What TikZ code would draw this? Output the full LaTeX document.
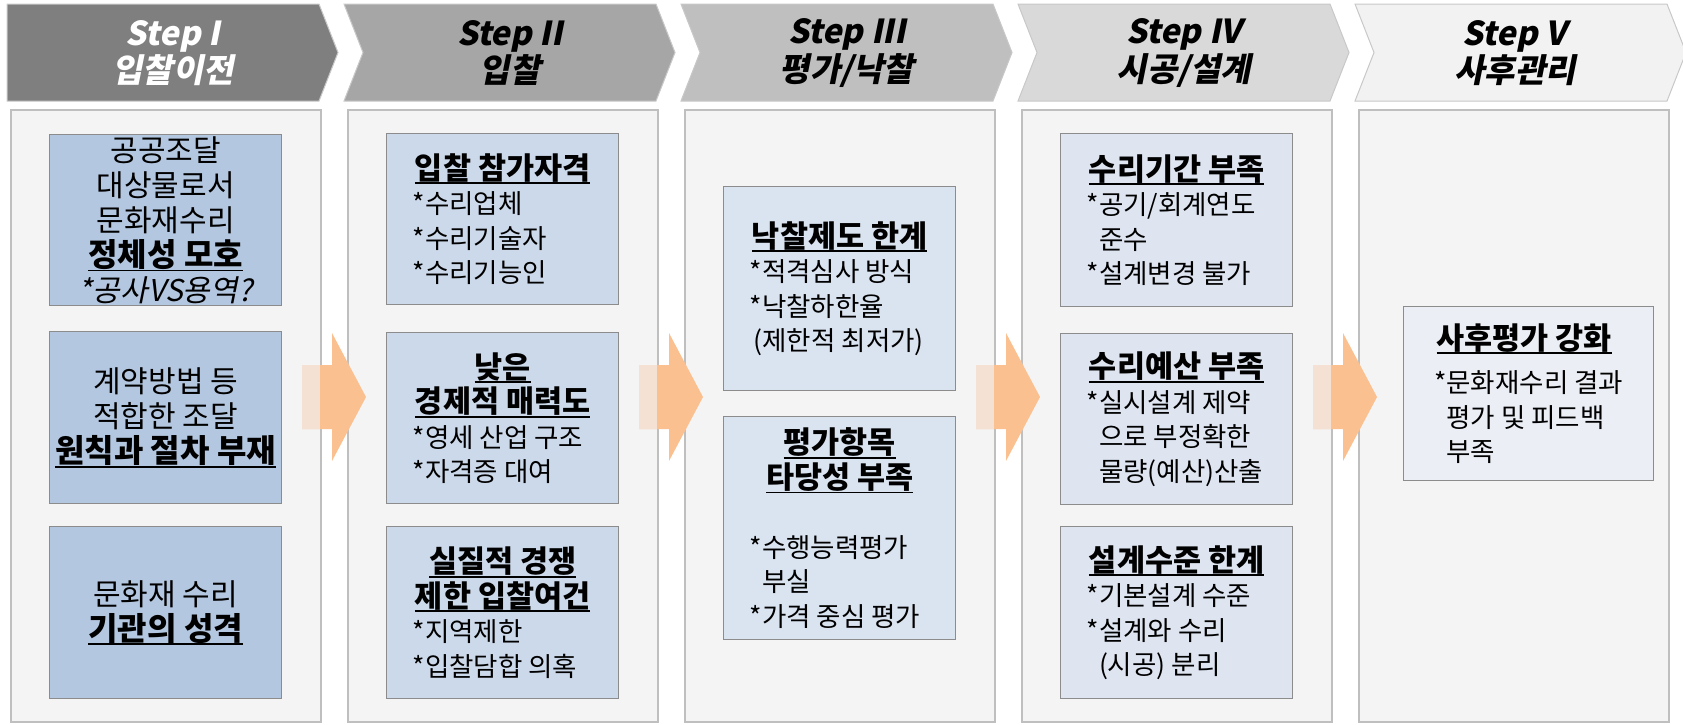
\documentclass[tikz,border=0pt]{standalone}
\usepackage{fontspec}
\setmainfont{Noto Sans CJK KR}
\newfontfamily\slfont{Noto Sans CJK KR}[FakeSlant=0.2]
\definecolor{hA}{HTML}{7F7F7F}
\definecolor{hB}{HTML}{A6A6A6}
\definecolor{hC}{HTML}{BFBFBF}
\definecolor{hD}{HTML}{D9D9D9}
\definecolor{hE}{HTML}{F2F2F2}
\definecolor{hline}{HTML}{C8C8C8}
\definecolor{panfill}{HTML}{F4F4F4}
\definecolor{panline}{HTML}{BFBFBF}
\definecolor{boxline}{HTML}{8C8C8C}
\definecolor{bI}{HTML}{B4C7E0}
\definecolor{bII}{HTML}{CCD9EA}
\definecolor{bIII}{HTML}{DAE3F0}
\definecolor{bIV}{HTML}{DEE5F1}
\definecolor{bV}{HTML}{EBEEF5}
\definecolor{arrowc}{HTML}{FAC090}
\definecolor{arrowpale}{HTML}{F5E1D3}
\newcommand\myul[1]{\setbox0\hbox{#1}\rlap{\rule[-5pt]{\wd0}{1.8pt}}\box0}
\newcommand\ttl[1]{\makebox[180pt][c]{\fontsize{30.5}{34.5}\selectfont\myul{\bfseries #1}}}
\newcommand\bigul[1]{{\fontsize{32}{35}\selectfont\myul{\bfseries #1}}}
\newcommand\arrowat[1]{%
  \fill[arrowc] (#1-18,365) -- (#1+12,365) -- (#1+12,333) -- (#1+46,397) -- (#1+12,461) -- (#1+12,429) -- (#1-18,429) -- cycle;
  \fill[arrowpale] (#1-18,365) rectangle (#1,429);}
\begin{document}
\begin{tikzpicture}[x=1pt,y=-1pt,
  panel/.style={draw=panline, fill=panfill, line width=1.5pt, minimum width=310, minimum height=612, anchor=north west, inner sep=0pt},
  box/.style={draw=boxline, line width=1.3pt, anchor=north west, minimum width=232, inner sep=0pt, align=left, font=\fontsize{26.5}{34.5}\selectfont},
  boxI/.style={box, fill=bI, align=center, font=\fontsize{30}{35}\selectfont},
  hdr/.style={font=\slfont\bfseries\fontsize{33}{37.5}\selectfont, align=center, inner sep=0pt},
  chev/.style={draw=hline, line width=1pt}]
\useasboundingbox (0,0) rectangle (1683,724);
% headers
\filldraw[chev, fill=hA] (7,4) -- (319,4) -- (338,52.5) -- (319,101) -- (7,101) -- cycle;
\filldraw[chev, fill=hB] (344,4) -- (656,4) -- (675,52.5) -- (656,101) -- (344,101) -- (363,52.5) -- cycle;
\filldraw[chev, fill=hC] (681,4) -- (993,4) -- (1012,52.5) -- (993,101) -- (681,101) -- (700,52.5) -- cycle;
\filldraw[chev, fill=hD] (1018,4) -- (1330,4) -- (1349,52.5) -- (1330,101) -- (1018,101) -- (1037,52.5) -- cycle;
\filldraw[chev, fill=hE] (1355,4) -- (1667,4) -- (1686,52.5) -- (1667,101) -- (1355,101) -- (1374,52.5) -- cycle;
\node[hdr, text=white] (h1) at (173,53) {Step I\\입찰이전};
\node[hdr] (h2) at (510,53) {Step II\\입찰};
\node[hdr] (h3) at (847,53) {Step III\\평가/낙찰};
\node[hdr] (h4) at (1184,53) {Step IV\\시공/설계};
\node[hdr] (h5) at (1515,53) {Step V\\사후관리};
% panels
\node[panel] (p1) at (10,109) {};
\node[panel] (p2) at (347,109) {};
\node[panel] (p3) at (684,109) {};
\node[panel] (p4) at (1021,109) {};
\node[panel] (p5) at (1358,109) {};
% arrows
\arrowat{320}
\arrowat{657}
\arrowat{994}
\arrowat{1331}
% panel I
\node[boxI, minimum height=171] (b11) at (49,134) {공공조달\\대상물로서\\문화재수리\\\bigul{정체성 모호}\\{\slfont *공사VS용역?}};
\node[boxI, minimum height=172] (b12) at (49,331) {계약방법 등\\적합한 조달\\\bigul{원칙과 절차 부재}};
\node[boxI, minimum height=172] (b13) at (49,526) {문화재 수리\\\bigul{기관의 성격}};
% panel II
\node[box, fill=bII, minimum height=171] (b21) at (386,133) {\ttl{입찰 참가자격}\\*수리업체\\*수리기술자\\*수리기능인};
\node[box, fill=bII, minimum height=171] (b22) at (386,332) {\ttl{낮은}\\\ttl{경제적 매력도}\\*영세 산업 구조\\*자격증 대여};
\node[box, fill=bII, minimum height=172] (b23) at (386,526) {\ttl{실질적 경쟁}\\\ttl{제한 입찰여건}\\*지역제한\\*입찰담합 의혹};
% panel III
\node[box, fill=bIII, minimum height=204] (b31) at (723,186) {\ttl{낙찰제도 한계}\\*적격심사 방식\\*낙찰하한율\\\hspace*{4pt}(제한적 최저가)};
\node[box, fill=bIII, minimum height=223] (b32) at (723,416) {\ttl{평가항목}\\\ttl{타당성 부족}\\[34.5pt]*수행능력평가\\\phantom{*}부실\\*가격 중심 평가};
% panel IV
\node[box, fill=bIV, minimum height=173] (b41) at (1060,133) {\ttl{수리기간 부족}\\*공기/회계연도\\\phantom{*}준수\\*설계변경 불가};
\node[box, fill=bIV, minimum height=171] (b42) at (1060,333) {\ttl{수리예산 부족}\\*실시설계 제약\\\phantom{*}으로 부정확한\\\phantom{*}물량(예산)산출};
\node[box, fill=bIV, minimum height=172] (b43) at (1060,526) {\ttl{설계수준 한계}\\*기본설계 수준\\*설계와 수리\\\phantom{*}(시공) 분리};
% panel V
\node[box, fill=bV, minimum width=250, minimum height=174] (b51) at (1403,306) {\ttl{사후평가 강화}\\[9pt]*문화재수리 결과\\\phantom{*}평가 및 피드백\\\phantom{*}부족};
\end{tikzpicture}
\end{document}
